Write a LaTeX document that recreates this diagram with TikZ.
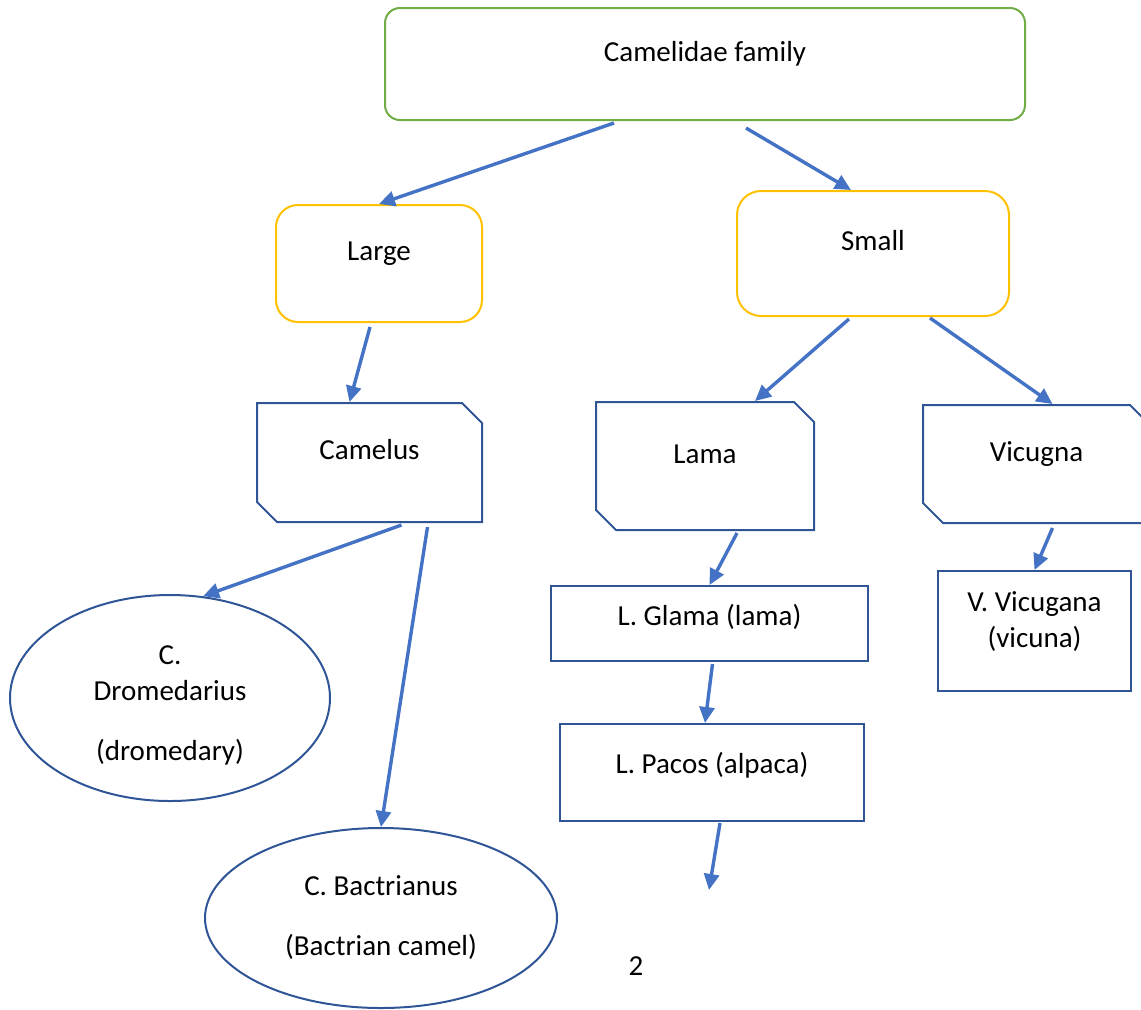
\documentclass[tikz,border=0pt]{standalone}
\usepackage{fontspec}
\setmainfont{Carlito}
\usetikzlibrary{shapes.misc,shapes.geometric,arrows.meta,calc}
\definecolor{famgreen}{HTML}{70AD47}
\definecolor{sizeyellow}{HTML}{FFC000}
\definecolor{boxblue}{HTML}{2F5597}
\definecolor{arrowblue}{HTML}{4472C4}
\newcommand{\sinkstrut}[1]{\rule[-#1]{0pt}{#1}}

\begin{document}
\begin{tikzpicture}[x=0.5pt,y=-0.5pt,
  font=\fontsize{14.5}{18}\selectfont,
  family/.style={draw=famgreen,line width=1pt,rounded corners=7.5pt,
    minimum width=320pt,minimum height=56pt,text height=10pt,text depth=13pt},
  size/.style={draw=sizeyellow,line width=1pt,rounded corners=11pt,
    text height=10pt,text depth=13pt},
  genus/.style={chamfered rectangle,chamfered rectangle corners={north east,south west},
    chamfered rectangle xsep=5pt,chamfered rectangle ysep=5pt,
    draw=boxblue,line width=1pt,text height=10pt,text depth=13pt},
  species/.style={rectangle,draw=boxblue,line width=1pt,align=center},
  oval/.style={ellipse,draw=boxblue,line width=1pt,align=center,inner sep=0pt},
  link/.style={draw=arrowblue,line width=1.7pt,-{Triangle[length=8pt,width=7.5pt]}}]

\useasboundingbox (0,0) rectangle (1141,1009);

% top level
\node[family] (fam) at (705,64) {Camelidae family};

% size groups
\node[size,minimum width=103pt,minimum height=58.5pt] (large) at (379,263.5) {Large};
\node[size,rounded corners=12pt,minimum width=136pt,minimum height=62.5pt] (small) at (873,253.5) {Small};

% genera
\node[genus,minimum width=112.5pt,minimum height=59.5pt] (camelus) at (369.5,462.5) {Camelus};
\node[genus,minimum width=109pt,minimum height=64pt] (lama) at (705,466) {Lama};
\node[genus,minimum width=113.5pt,minimum height=59pt] (vicugna) at (1036.5,464) {Vicugna};

% species
\node[oval,minimum width=160pt,minimum height=103pt] (drom) at (170,698)
  {\rule{0pt}{17pt}C.\\Dromedarius\\[12pt](dromedary)};
\node[oval,minimum width=176pt,minimum height=90pt] (bact) at (381,918)
  {C. Bactrianus\\[12pt](Bactrian camel)};
\node[species,minimum width=158.5pt,minimum height=37.5pt,text height=10pt,text depth=8.5pt]
  (glama) at (709.5,623.5) {L. Glama (lama)};
\node[species,minimum width=152pt,minimum height=48.5pt,text height=10pt,text depth=9.5pt]
  (pacos) at (712,772.5) {L. Pacos (alpaca)};
\node[species,minimum width=96.5pt,minimum height=60pt] (vicu) at (1034.5,631)
  {V. Vicugana\\(vicuna)\sinkstrut{11.5pt}};

% page number
\node (page) at (636,966) {2};

\coordinate (pacosend) at (709,890);

% arrows
\draw[link] ($(fam.south)+(-91,2)$) -- (large.north);
\draw[link] ($(fam.south)+(41,7)$) -- ($(small.north)+(-22,0)$);
\draw[link] ($(large.south)+(-9,4)$) -- ($(camelus.north)+(-20,0)$);
\draw[link] ($(small.south)+(-24,2)$) -- ($(lama.north)+(50,0)$);
\draw[link] ($(small.south)+(57,1)$) -- ($(vicugna.north)+(16,0)$);
\draw[link] ($(camelus.south)+(32,2)$) -- (drom.72);
\draw[link] ($(camelus.south)+(58,4)$) -- (bact.north);
\draw[link] ($(lama.south)+(32,2)$) -- (glama.north);
\draw[link] ($(vicugna.south)+(16,4)$) -- (vicu.north);
\draw[link] ($(glama.south)+(3,2)$) -- ($(pacos.north)+(-7,0)$);
\draw[link] ($(pacos.south)+(8,1)$) -- (pacosend);

\end{tikzpicture}
\end{document}
